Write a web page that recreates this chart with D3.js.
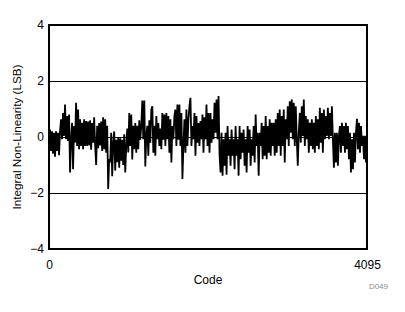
<!DOCTYPE html>
<html>
<head>
<meta charset="utf-8">
<script src="https://cdn.jsdelivr.net/npm/d3@7"></script>
<style>
  html, body { margin: 0; padding: 0; background: #fff; }
  svg { font-family: "Liberation Sans", Arial, sans-serif; }
</style>
</head>
<body>
<div id="chart"></div>
<script>
const codeRange = [0, 4095];
const yTicks = [-4, -2, 0, 2, 4];
const gridValues = [-2, 0, 2];
const xTickLabels = ['0', '4095'];

// INL values, left to right across the code range
const inl = [
  -0.2, 0.27, -0.5, 0.2, -0.6, 0.15, -0.7, 0.2, -0.5, 0.15, -0.65, 0.2,
  0.63, -0.08, 0.86, 0.04, 1.16, -0.08, 0.75, -0.14, 0.8, -1.27, -0.08, 0.51,
  -1.15, 0.39, -0.2, 1.22, -0.32, 0.98, -0.44, 0.63, -0.32, 0.51, -0.44, 0.63,
  -0.32, 0.57, -0.32, 0.55, -0.3, 0.6, -0.45, 0.5, -0.2, 0.7, -0.3, -1.0,
  0.4, -0.4, 0.5, -0.3, 0.55, -0.5, 0.7, -0.44, 0.63, -0.56, 0.4, -1.86,
  -0.79, -0.9, 0.15, -1.4, -0.2, 0.2, -1.2, -0.1, -0.9, 0.0, -1.1, -0.05,
  -0.85, -0.1, -1.0, 0.1, -1.27, -0.3, 0.3, -0.55, 0.86, -0.32, 0.8, -0.8,
  0.4, -0.44, 0.5, -0.56, 0.4, -0.44, 0.6, -0.1, 0.4, 1.3, -0.08, 1.3,
  -1.05, 0.04, 0.4, -0.67, 0.6, -0.2, 0.98, 1.1, -0.56, 0.4, -0.67, 0.75,
  -0.08, 0.5, -0.32, 0.3, -0.44, 0.86, -0.1, 0.8, -0.32, 0.86, -0.08, 0.75,
  -0.56, 0.63, -0.91, 0.39, -0.08, 0.75, 0.98, -0.32, 1.16, -0.1, 1.16, -0.32,
  0.86, -1.5, -0.32, 0.63, -0.56, 0.98, -0.32, 0.63, 1.1, 1.4, -0.32, 0.39,
  -0.08, 0.86, -0.67, 0.75, -0.2, 0.5, -0.32, 0.57, -0.08, 0.8, -0.56, 0.7,
  -0.08, 1.16, -0.32, 0.86, -0.56, 0.86, -0.2, 0.63, -0.08, 1.22, 0.15, 1.34,
  -0.08, 1.46, -0.6, -1.27, 0.15, -1.38, -0.08, -1.03, 0.15, -1.35, 0.39, -0.67,
  -0.08, -1.03, 0.27, -0.67, -0.08, -1.15, 0.39, -0.67, -0.08, -1.38, 0.39, -0.79,
  0.15, -0.56, 0.27, -1.03, -0.08, -1.27, 0.39, -0.56, 0.27, -1.03, -0.08, -0.67,
  0.39, -0.91, 0.8, -0.32, 0.15, -1.38, 0.15, -0.32, 0.51, -0.79, 0.39, -0.67,
  0.75, -0.79, 0.39, -0.56, 0.63, -0.67, 0.51, -0.32, 0.51, -0.67, 0.63, -0.56,
  0.86, -0.32, 0.98, -0.67, 0.75, -0.32, 0.98, -0.91, 0.63, -0.08, 1.1, -0.32,
  1.28, 0.15, 1.34, -0.08, 1.22, -0.32, 1.1, -0.08, -1.03, 0.15, 0.86, -0.2,
  1.1, 0.04, 1.34, -0.32, 0.75, -0.08, 0.63, -0.56, 0.51, -0.32, 0.63, -0.44,
  0.51, -0.56, 0.75, -0.32, 0.63, -0.44, 1.04, -0.2, 0.86, -0.56, 0.98, -0.08,
  0.75, 0.04, 1.04, -0.08, 0.86, 0.04, 1.1, -0.08, -1.1, 0.15, -0.91, 0.15,
  -1.03, 0.04, 0.39, -0.56, 0.51, -0.32, 0.39, -0.56, 0.51, -0.44, 0.39, -0.79,
  0.15, -1.27, -0.08, -1.15, 0.15, -0.91, 0.15, 0.65, -0.44, 0.51, -0.56, 0.39,
  -0.32, 0.04, -0.79, 0.04, -0.91, -0.08
];

const width = 405, height = 312;
const margin = { top: 25, right: 38, bottom: 63, left: 49 };
const w = width - margin.left - margin.right;
const h = height - margin.top - margin.bottom;

const svg = d3.select('#chart').append('svg')
  .attr('width', width)
  .attr('height', height);

const g = svg.append('g')
  .attr('transform', `translate(${margin.left},${margin.top})`);

const x = d3.scaleLinear().domain(codeRange).range([0, w]);
const y = d3.scaleLinear().domain([-4, 4]).range([h, 0]);
// spread the read samples evenly over the code axis
const idx = d3.scaleLinear().domain([0, inl.length - 1]).range(codeRange);

// grid lines
g.selectAll('.grid')
  .data(gridValues)
  .enter().append('line')
  .attr('x1', 0).attr('x2', w)
  .attr('y1', d => y(d)).attr('y2', d => y(d))
  .attr('stroke', '#000')
  .attr('stroke-width', 1)
  .attr('shape-rendering', 'crispEdges');

// data line
const line = d3.line()
  .x((d, i) => x(idx(i)))
  .y(d => y(d));

g.append('path')
  .datum(inl)
  .attr('d', line)
  .attr('fill', 'none')
  .attr('stroke', '#000')
  .attr('stroke-width', 1.8)
  .attr('stroke-linejoin', 'miter');

// y axis labels
const yAxis = g.append('g')
  .call(d3.axisLeft(y).tickValues(yTicks).tickSize(0).tickPadding(5).tickFormat(d3.format('d')));
yAxis.select('.domain').remove();
yAxis.selectAll('text')
  .style('font-size', '12px')
  .style('fill', '#000')
  .attr('font-family', '"Liberation Sans", Arial, sans-serif');

// x axis labels
const xAxis = g.append('g')
  .attr('transform', `translate(0,${h})`)
  .call(d3.axisBottom(x).tickValues(codeRange).tickSize(0).tickPadding(11)
    .tickFormat((d, i) => xTickLabels[i]));
xAxis.select('.domain').remove();
xAxis.selectAll('text')
  .style('font-size', '12px')
  .style('fill', '#000')
  .attr('font-family', '"Liberation Sans", Arial, sans-serif');

// frame
g.append('rect')
  .attr('x', 0).attr('y', 0)
  .attr('width', w).attr('height', h)
  .attr('fill', 'none')
  .attr('stroke', '#000')
  .attr('stroke-width', 2);

// axis titles
svg.append('text')
  .attr('x', margin.left + w / 2)
  .attr('y', 284)
  .attr('text-anchor', 'middle')
  .style('font-size', '12px')
  .text('Code');

svg.append('text')
  .attr('transform', `translate(21,${margin.top + h / 2}) rotate(-90)`)
  .attr('text-anchor', 'middle')
  .style('font-size', '11.7px')
  .text('Integral Non-Linearity (LSB)');

svg.append('text')
  .attr('x', 388)
  .attr('y', 289)
  .attr('text-anchor', 'end')
  .style('font-size', '8px')
  .style('fill', '#888')
  .text('D049');
</script>
</body>
</html>
